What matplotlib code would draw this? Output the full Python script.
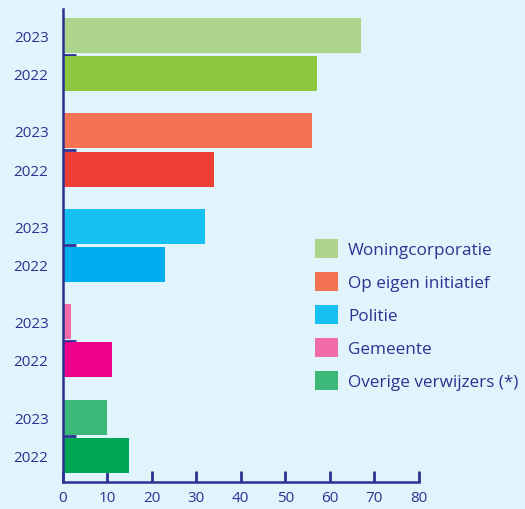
import numpy as np
import matplotlib.pyplot as plt
from matplotlib.patches import Patch

# verwijzers, waarden per jaar
categories = ['Woningcorporatie', 'Op eigen initiatief', 'Politie', 'Gemeente', 'Overige verwijzers (*)']
values_2023 = [67, 56, 32, 2, 10]
values_2022 = [57, 34, 23, 11, 15]
years = ['2023', '2022']
colors_2023 = ['#acd48a', '#f47352', '#15c1f0', '#f26ca8', '#3cb878']
colors_2022 = ['#8dc63f', '#ef3e36', '#00aeef', '#ec008c', '#00a651']

navy = '#2e3192'
bg = '#e1f3fb'

plt.rcParams['font.family'] = ['Open Sans', 'DejaVu Sans']

fig = plt.figure(figsize=(5.25, 5.10), dpi=100, facecolor=bg)
ax = fig.add_axes([62.5/525, 27/510, (419-62.5)/525, (483-10)/510])
ax.set_facecolor(bg)

pos = np.arange(len(categories))
off = 0.2
h = 0.367
ax.barh(pos - off, values_2023, height=h, color=colors_2023, zorder=3)
ax.barh(pos + off, values_2022, height=h, color=colors_2022, zorder=3)

ax.set_xlim(0, 80)
ax.set_ylim(4.48, -0.477)
ax.set_xticks(np.arange(0, 81, 10))

# kleine streepjes tussen de jaren, labels bij de balken
ax.set_yticks(pos)
ax.set_yticklabels([])
ax.set_yticks(np.concatenate([pos - off, pos + off]), minor=True)
ax.set_yticklabels([years[0]] * len(pos) + [years[1]] * len(pos), minor=True)
ax.tick_params(axis='y', which='major', direction='in', length=9, width=2, color=navy)
ax.tick_params(axis='y', which='minor', length=0, pad=10, labelsize=11, labelcolor=navy)
ax.tick_params(axis='x', direction='in', length=8, width=2, color=navy,
               labelsize=11, labelcolor=navy, pad=6)

for s in ['top', 'right']:
    ax.spines[s].set_visible(False)
for s in ['left', 'bottom']:
    ax.spines[s].set_color(navy)
    ax.spines[s].set_linewidth(1.8)
    ax.spines[s].set_zorder(4)

handles = [Patch(facecolor=c, edgecolor='none') for c in colors_2023]
leg = fig.legend(handles, categories, loc='upper left', bbox_to_anchor=(308/525, 1 - 233/510),
                 frameon=False, fontsize=12.3, handlelength=1.35, handleheight=1.35,
                 labelspacing=0.8, handletextpad=0.6, borderaxespad=0)
for t in leg.get_texts():
    t.set_color(navy)

fig.savefig('out.png', dpi=100, facecolor=bg)
